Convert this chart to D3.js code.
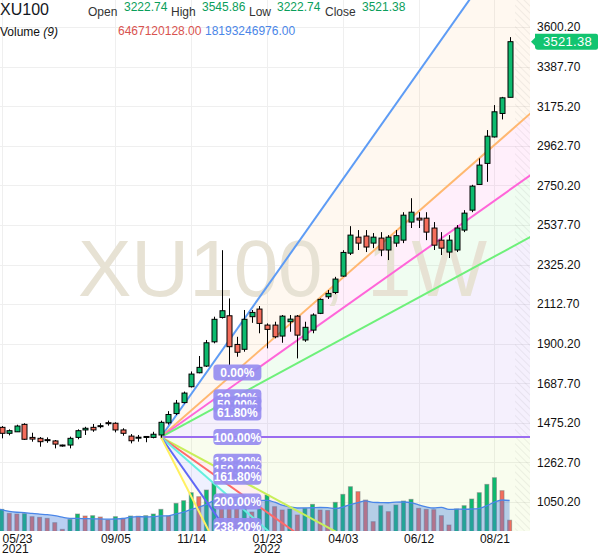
<!DOCTYPE html>
<html><head><meta charset="utf-8">
<script src="https://cdn.jsdelivr.net/npm/d3@7"></script>
<style>
body{margin:0;background:#fff;}
svg{display:block;font-family:"Liberation Sans",Arial,sans-serif;}
</style>
</head><body>
<svg id="c" width="600" height="558"></svg>
<script>
// ---------- DATA ----------
const weeks = [
"2021-05-23","2021-05-30","2021-06-06","2021-06-13","2021-06-20","2021-06-27","2021-07-04","2021-07-11","2021-07-18","2021-07-25",
"2021-08-01","2021-08-08","2021-08-15","2021-08-22","2021-08-29","2021-09-05","2021-09-12","2021-09-19","2021-09-26","2021-10-03",
"2021-10-10","2021-10-17","2021-10-24","2021-10-31","2021-11-07","2021-11-14","2021-11-21","2021-11-28","2021-12-05","2021-12-12",
"2021-12-19","2021-12-26","2022-01-02","2022-01-09","2022-01-16","2022-01-23","2022-01-30","2022-02-06","2022-02-13","2022-02-20",
"2022-02-27","2022-03-06","2022-03-13","2022-03-20","2022-03-27","2022-04-03","2022-04-10","2022-04-17","2022-04-24","2022-05-01",
"2022-05-08","2022-05-15","2022-05-22","2022-05-29","2022-06-05","2022-06-12","2022-06-19","2022-06-26","2022-07-03","2022-07-10",
"2022-07-17","2022-07-24","2022-07-31","2022-08-07","2022-08-14","2022-08-21","2022-08-28","2022-09-04"];
const open = [
1451,1419,1427,1467,1397,1392,1385,1378,1356,1356,
1397,1437,1451,1456,1476,1473,1437,1404,1395,1400,
1397,1410,1475,1525,1584,1669,1744,1780,1910,2041,
2050,1896,1870,2045,2086,2000,2000,1941,2018,2048,
1920,1973,2063,2152,2175,2263,2386,2472,2478,2440,
2467,2403,2440,2456,2553,2574,2574,2521,2456,2392,
2403,2510,2617,2755,2868,3010,3136,3222.74];
const high = [
1458,1440,1465,1473,1422,1399,1397,1383,1358,1401,
1440,1454,1469,1473,1487,1478,1446,1415,1410,1404,
1427,1487,1538,1598,1643,1751,1834,1920,2045,2402,
2143,1937,2081,2081,2102,2009,2018,2054,2054,2054,
2018,2063,2143,2188,2259,2402,2531,2510,2510,2494,
2499,2483,2510,2606,2681,2606,2606,2553,2499,2483,
2537,2617,2753,2895,3047,3181,3225,3545.86];
const low = [
1392,1408,1426,1383,1374,1347,1368,1338,1347,1338,
1387,1410,1427,1446,1460,1424,1406,1365,1374,1371,
1392,1395,1466,1517,1579,1665,1741,1775,1902,2035,
1785,1830,1857,2012,1956,1875,1929,1905,1964,1821,
1910,1956,2059,2140,2166,2259,2376,2403,2392,2413,
2370,2349,2420,2440,2521,2521,2456,2403,2376,2360,
2392,2499,2606,2755,2769,3007,3104,3222.74];
const close = [
1419,1433,1458,1387,1388,1374,1383,1361,1353,1392,
1433,1446,1437,1460,1473,1437,1419,1379,1398,1402,
1414,1478,1520,1581,1635,1737,1773,1905,2031,2077,
1884,1854,2031,2068,2009,1977,1937,2048,2032,1946,
1988,2054,2138,2170,2247,2390,2483,2440,2419,2472,
2403,2472,2480,2590,2606,2564,2499,2429,2413,2456,
2521,2601,2746,2859,3014,3145,3220,3521.38];
// weekly volume, billions
const volume = [
13.0,10.6,10.2,10.4,8.6,8.2,7.6,5.0,1.0,6.9,
10.2,9.0,9.2,8.4,6.6,8.6,7.6,9.0,8.9,9.2,
10.2,13.0,9.0,16.6,18.2,23.0,20.6,24.6,28.8,22.2,
15.6,13.2,15.0,11.4,13.2,21.6,14.6,12.6,13.2,9.6,
13.6,16.0,12.6,12.3,17.2,22.0,26.6,23.6,18.6,5.6,
15.2,11.6,15.6,18.0,19.0,13.6,13.0,12.8,9.2,3.6,
13.2,15.2,19.2,23.0,28.0,32.0,24.2,6.47];
const priceTicks = [1050.2,1262.7,1475.2,1687.7,1900.2,2112.7,2325.2,2537.7,2750.2,2962.7,3175.2,3387.7,3600.2];
const dateTicks = ["2021-05-23","2021-09-05","2021-11-14","2022-01-23","2022-04-03","2022-06-12","2022-08-21"];
const dateTickLabels = ["05/23","09/05","11/14","01/23","04/03","06/12","08/21"];
const yearTicks = ["2021-05-23","2022-01-23"];
const yearLabels = ["2021","2022"];
const fibLevels = [0,0.382,0.5,0.618,1,1.382,1.5,1.618,2,2.382];
const fibLabels = ["0.00%","38.20%","50.00%","61.80%","100.00%","138.20%","150.00%","161.80%","200.00%","238.20%"];
const fibColors = ["#5e9cf5","#ffb870","#ff66d9","#6ef07a","#9a6cf0","#c8ef5a","#ff6a6a","#66efe0","#6068f5","#fff060"];
const fanStartWeek = "2021-10-17", fanStartPrice = 1399;
const fanEndWeek = "2021-11-28", fanEndPrice = 1745;
const symbol = "XU100";
const watermark = "XU100, 1W";
const legendNames = ["Open","High","Low","Close"];
const legendValues = ["3222.74","3545.86","3222.74","3521.38"];
const volumeTitle = "Volume";
const volumeParam = "(9)";
const volumeValues = ["6467120128.00","18193246976.00"];
const lastPrice = 3521.38;
const maPeriod = 9;

// ---------- LAYOUT ----------
const W = 600, H = 558, PW = 530, PH = 531, FUT = 515;
const svg = d3.select("#c");
const x = d3.scalePoint().domain(weeks).range([1.7, 509.6]);
const y = d3.scaleLinear().domain([1050.2, 3600.2]).range([502, 27]);
const yv = d3.scaleLinear().domain([0, 30]).range([PH, PH - 30 * 1.665]);
const UP = "#0dba6e", DN = "#f46d5c";

const defs = svg.append("defs");
defs.append("clipPath").attr("id","plot").append("rect").attr("x",0).attr("y",0).attr("width",PW).attr("height",PH);
const pat = defs.append("pattern").attr("id","hatch").attr("patternUnits","userSpaceOnUse")
  .attr("width",5).attr("height",5).attr("patternTransform","rotate(-45)");
pat.append("line").attr("x1",0).attr("y1",0).attr("x2",0).attr("y2",5).attr("stroke","rgba(0,0,0,0.07)").attr("stroke-width",1.5);

const g = svg.append("g").attr("clip-path","url(#plot)");

// gridlines
g.append("g").selectAll("line").data(priceTicks).join("line")
  .attr("x1",0).attr("x2",PW).attr("y1",d=>Math.round(y(d))+0.5).attr("y2",d=>Math.round(y(d))+0.5)
  .attr("stroke","#efefef");
g.append("g").selectAll("line").data(dateTicks).join("line")
  .attr("y1",0).attr("y2",PH).attr("x1",d=>Math.round(x(d))+0.5).attr("x2",d=>Math.round(x(d))+0.5)
  .attr("stroke","#efefef");

// fan geometry
const Ax = x(fanStartWeek), Ay = y(fanStartPrice), Bx = x(fanEndWeek);
const lvlY = fibLevels.map(r => y(fanEndPrice + r * (fanStartPrice - fanEndPrice)));
const farX = PW + 5;
const farY = lvlY.map(yy => Ay + (yy - Ay) * (farX - Ax) / (Bx - Ax));

// fan fills
const fills = g.append("g");
for (let k = 0; k < fibLevels.length - 1; k++) {
  fills.append("path")
    .attr("d", d3.line()([[Ax,Ay],[farX,farY[k]],[farX,farY[k+1]]]) + "Z")
    .attr("fill", fibColors[k+1]).attr("fill-opacity", 0.1);
}

// hatched future area
g.append("rect").attr("x",FUT).attr("y",0).attr("width",PW-FUT).attr("height",PH).attr("fill","url(#hatch)");

// watermark
g.append("text").text(watermark).attr("x",78).attr("y",296)
  .attr("font-size",80).attr("fill","#e7e2d4").attr("font-family","Liberation Sans, Arial, sans-serif");

// volume bars
const vb = g.append("g");
vb.selectAll("rect").data(weeks).join("rect")
  .attr("x", d => x(d) - 2).attr("width", 4)
  .attr("y", (d,i) => yv(volume[i])).attr("height", (d,i) => PH - yv(volume[i]) + 1)
  .attr("fill", (d,i) => (i === 0 || volume[i] >= volume[i-1]) ? UP : DN)
  .attr("stroke","rgba(120,120,120,0.55)").attr("stroke-width",1);

// volume MA
const ma = volume.map((v,i) => { const s = volume.slice(Math.max(0,i-maPeriod+1), i+1); return d3.mean(s); });
const maPts = weeks.map((d,i) => [x(d), yv(ma[i])]);
maPts[0] = [0, maPts[0][1]];
g.append("path").attr("d", d3.area().x(p=>p[0]).y0(PH).y1(p=>p[1]).curve(d3.curveMonotoneX)(maPts))
  .attr("fill","rgba(70,130,220,0.38)");
g.append("path").attr("d", d3.line().x(p=>p[0]).y(p=>p[1]).curve(d3.curveMonotoneX)(maPts))
  .attr("fill","none").attr("stroke","#4a86e8").attr("stroke-width",1.3);

// fan lines
const fl = g.append("g");
fibLevels.forEach((r,k) => {
  fl.append("line").attr("x1",Ax).attr("y1",Ay).attr("x2",farX).attr("y2",farY[k])
    .attr("stroke",fibColors[k]).attr("stroke-width",2);
});

// candles
const cg = g.append("g");
cg.selectAll("line").data(weeks).join("line")
  .attr("x1", d => Math.round(x(d)) + 0.5).attr("x2", d => Math.round(x(d)) + 0.5)
  .attr("y1", (d,i) => y(high[i])).attr("y2", (d,i) => y(low[i]))
  .attr("stroke","#000").attr("stroke-width",1);
cg.selectAll("rect").data(weeks).join("rect")
  .attr("x", d => Math.round(x(d)) - 2).attr("width", 5)
  .attr("y", (d,i) => y(Math.max(open[i],close[i])))
  .attr("height", (d,i) => Math.max(1, Math.abs(y(open[i]) - y(close[i]))))
  .attr("fill", (d,i) => close[i] >= open[i] ? UP : DN)
  .attr("stroke","#000").attr("stroke-width",1);

// fan labels
const lg = svg.append("g").attr("clip-path","url(#plot)");
fibLevels.forEach((r,k) => {
  const lx = Bx + 7, ly = lvlY[k];
  lg.append("rect").attr("x",lx).attr("y",ly-8).attr("width",48).attr("height",16).attr("rx",4)
    .attr("fill","#968cf0").attr("fill-opacity",0.92);
  lg.append("text").attr("x",lx+24).attr("y",ly+4.5).attr("text-anchor","middle")
    .attr("font-size",12).attr("font-weight","bold").attr("fill","#fff").text(fibLabels[k]);
});

// price axis
const ya = svg.append("g").attr("transform",`translate(${PW+7},0)`)
  .call(d3.axisRight(y).tickValues(priceTicks).tickFormat(d3.format(".2f")).tickSize(0).tickPadding(0));
ya.select(".domain").remove();
ya.selectAll("text").attr("font-size",12).attr("fill","#111").attr("font-family","Liberation Sans, Arial, sans-serif");

// last price badge
const by = y(lastPrice);
svg.append("path").attr("d",`M${PW+1},${by} L${PW+5},${by-4} L${PW+5},${by-8} Q${PW+5},${by-8} ${PW+8},${by-8} L${W-4},${by-8} Q${W-2},${by-8} ${W-2},${by-6} L${W-2},${by+6} Q${W-2},${by+8} ${W-4},${by+8} L${PW+8},${by+8} Q${PW+5},${by+8} ${PW+5},${by+5} L${PW+5},${by+4} Z`)
  .attr("fill","#12c470");
svg.append("text").attr("x",(PW+5+W-2)/2+1).attr("y",by+4.5).attr("text-anchor","middle")
  .attr("font-size",13).attr("fill","#fff").attr("letter-spacing","0.3").text(d3.format(".2f")(lastPrice));

// date axis
const xa = svg.append("g").attr("transform",`translate(0,${PH})`)
  .call(d3.axisBottom(x).tickValues(dateTicks).tickFormat((d,i)=>dateTickLabels[i]).tickSize(0).tickPadding(0));
xa.select(".domain").remove();
xa.selectAll("text").attr("font-size",12).attr("fill","#111").attr("dy",null).attr("y",12)
  .attr("font-family","Liberation Sans, Arial, sans-serif")
  .attr("text-anchor",(d,i)=> i===0 ? "start" : "middle")
  .attr("x",(d,i)=> i===0 ? 2 - x(d) : 0);
svg.append("g").selectAll("text").data(yearTicks).join("text")
  .attr("x",(d,i)=> i===0 ? 2 : x(d)).attr("y",553).attr("text-anchor",(d,i)=> i===0 ? "start":"middle")
  .attr("font-size",12).attr("fill","#111").text((d,i)=>yearLabels[i]);

// legend
const lgd = svg.append("g");
lgd.append("text").attr("x",0).attr("y",15).attr("font-size",16).attr("fill","#131722").text(symbol);
const nameX = [88,171,249,325], valX = [124,202,277,362];
legendNames.forEach((n,i)=>{
  lgd.append("text").attr("x",nameX[i]).attr("y",16).attr("font-size",12).attr("fill","#333").text(n);
  lgd.append("text").attr("x",valX[i]).attr("y",11).attr("font-size",12).attr("fill","#0a9e5b").text(legendValues[i]);
});
const vt = lgd.append("text").attr("x",0).attr("y",36).attr("font-size",12).attr("fill","#111");
vt.append("tspan").text(volumeTitle + " ");
vt.append("tspan").attr("font-style","italic").text(volumeParam);
lgd.append("text").attr("x",118).attr("y",35).attr("font-size",12).attr("fill","#d9534f").text(volumeValues[0]);
lgd.append("text").attr("x",205).attr("y",35).attr("font-size",12).attr("fill","#4a86e8").text(volumeValues[1]);
</script>
</body></html>
